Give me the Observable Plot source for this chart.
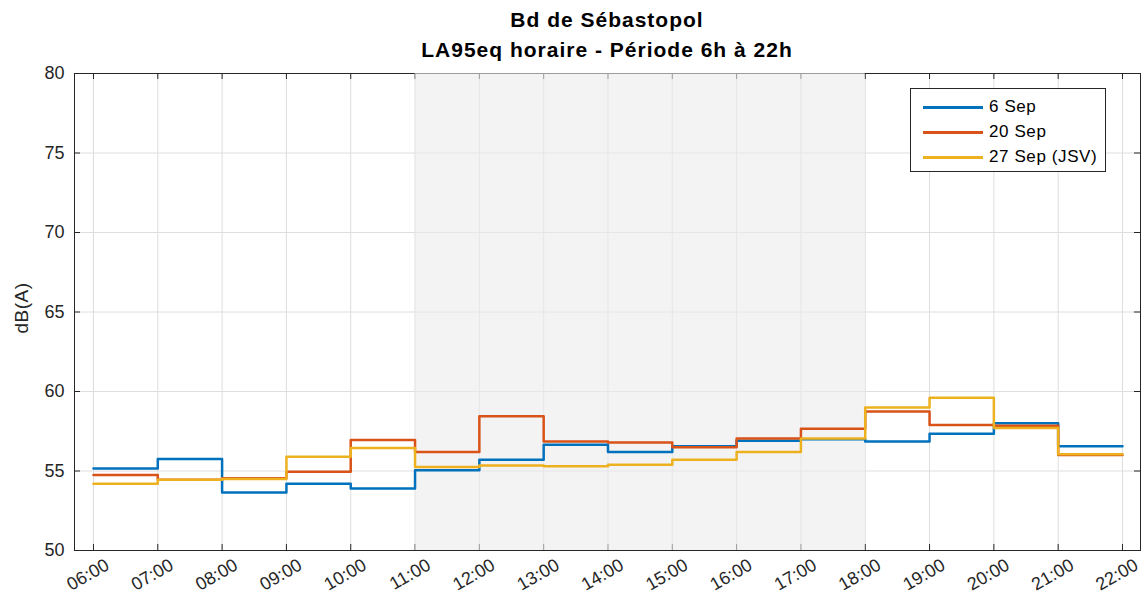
<!DOCTYPE html>
<html>
<head>
<meta charset="utf-8">
<script src="https://cdn.jsdelivr.net/npm/d3@7"></script>
<script src="https://cdn.jsdelivr.net/npm/@observablehq/plot@0.6"></script>
<style>
  body { margin: 0; background: #fff; font-family: "Liberation Sans", Arial, Helvetica, sans-serif; }
  #wrap { position: relative; width: 1144px; height: 606px; overflow: hidden; }
  #wrap svg { position: absolute; left: 0; top: 0; }
  .title { position: absolute; left: 74px; width: 1066px; text-align: center; font-weight: bold;
           font-size: 21px; letter-spacing: 1px; color: #000; line-height: 24px; white-space: nowrap; }
  #ylabel { position: absolute; left: 22px; top: 308px; transform: translate(-50%, -50%) rotate(-90deg);
            font-size: 19px; letter-spacing: 0.5px; color: #262626; white-space: nowrap; }
  #legend { position: absolute; left: 910px; top: 88px; width: 194px; height: 82px;
            border: 1px solid #262626; background: #fff; box-sizing: content-box; }
  .item { position: absolute; left: 0; height: 24px; width: 194px; }
  .swatch { position: absolute; left: 12px; top: 11px; width: 60px; height: 3px; }
  .lab { position: absolute; left: 78px; top: 0; font-size: 17px; letter-spacing: 0.6px; line-height: 24px; color: #000; white-space: nowrap; }
</style>
</head>
<body>
<div id="wrap">
  <div class="title" style="top:8px">Bd de Sébastopol</div>
  <div class="title" style="top:38px">LA95eq horaire - Période 6h à 22h</div>
  <div id="ylabel">dB(A)</div>
  <div id="legend"></div>
</div>
<script>
// ---- data ----
const hours = [6, 7, 8, 9, 10, 11, 12, 13, 14, 15, 16, 17, 18, 19, 20, 21];
const endHour = 22;
const seriesNames = ["6 Sep", "20 Sep", "27 Sep (JSV)"];
const seriesColors = ["#0072BD", "#D95319", "#EDB120"];
const sep6  = [55.15, 55.75, 53.65, 54.2, 53.9, 55.05, 55.7, 56.65, 56.2, 56.55, 56.9, 57.0, 56.85, 57.35, 58.0, 56.55];
const sep20 = [54.75, 54.45, 54.55, 54.95, 56.95, 56.2, 58.45, 56.85, 56.8, 56.5, 57.05, 57.65, 58.75, 57.9, 57.85, 56.0];
const sep27 = [54.2, 54.45, 54.5, 55.9, 56.45, 55.25, 55.35, 55.3, 55.4, 55.7, 56.2, 57.05, 59.0, 59.6, 57.7, 56.05];
const xTicks = [6, 7, 8, 9, 10, 11, 12, 13, 14, 15, 16, 17, 18, 19, 20, 21, 22];
const yTicks = [50, 55, 60, 65, 70, 75, 80];
const shaded = [{start: 11, end: 18}];

// ---- build table (step lines: repeat last value at end hour) ----
const allSeries = [sep6, sep20, sep27];
const rows = [];
allSeries.forEach((vals, i) => {
  hours.forEach((h, j) => rows.push({series: seriesNames[i], hour: h, value: vals[j]}));
  rows.push({series: seriesNames[i], hour: endHour, value: vals[vals.length - 1]});
});

const fmtHour = h => String(h).padStart(2, "0") + ":00";

const chart = Plot.plot({
  width: 1144,
  height: 606,
  marginTop: 73,
  marginBottom: 56,
  marginLeft: 74,
  marginRight: 4,
  style: {fontFamily: "'Liberation Sans', Arial, Helvetica, sans-serif", fontSize: "18px", color: "#262626", background: "transparent"},
  x: {type: "linear", domain: [5.705, 22.28]},
  y: {domain: [50, 80]},
  color: {domain: seriesNames, range: seriesColors},
  marks: [
    Plot.ruleX(xTicks, {stroke: "#dedede", strokeWidth: 1}),
    Plot.ruleY(yTicks, {stroke: "#dedede", strokeWidth: 1}),
    Plot.frame({stroke: "#262626", strokeWidth: 1}),
    Plot.ruleX(xTicks, {stroke: "#262626", insetTop: 471}),
    Plot.ruleX(xTicks, {stroke: "#262626", insetBottom: 471}),
    Plot.ruleY(yTicks, {stroke: "#262626", insetRight: 1060}),
    Plot.ruleY(yTicks, {stroke: "#262626", insetLeft: 1060}),
    Plot.rect(shaded, {x1: "start", x2: "end", fill: "#ebebeb", fillOpacity: 0.6}),
    Plot.axisX({ticks: xTicks, tickFormat: fmtHour, tickSize: 0, tickPadding: 0, tickRotate: -30,
                dx: 14, dy: 13, label: null, fontSize: 18, fill: "#262626"}),
    Plot.axisY({ticks: yTicks, tickSize: 0, tickPadding: 10, label: null, fontSize: 18, fill: "#262626"}),
    Plot.line(rows, {x: "hour", y: "value", z: "series", stroke: "series", curve: "step-after", strokeWidth: 2.5})
  ]
});
document.getElementById("wrap").prepend(chart);

// ---- legend ----
const legend = document.getElementById("legend");
seriesNames.forEach((name, i) => {
  const it = document.createElement("div");
  it.className = "item";
  it.style.top = (6 + i * 25) + "px";
  it.innerHTML = `<div class="swatch" style="background:${seriesColors[i]}"></div><div class="lab">${name}</div>`;
  legend.appendChild(it);
});
</script>
</body>
</html>
